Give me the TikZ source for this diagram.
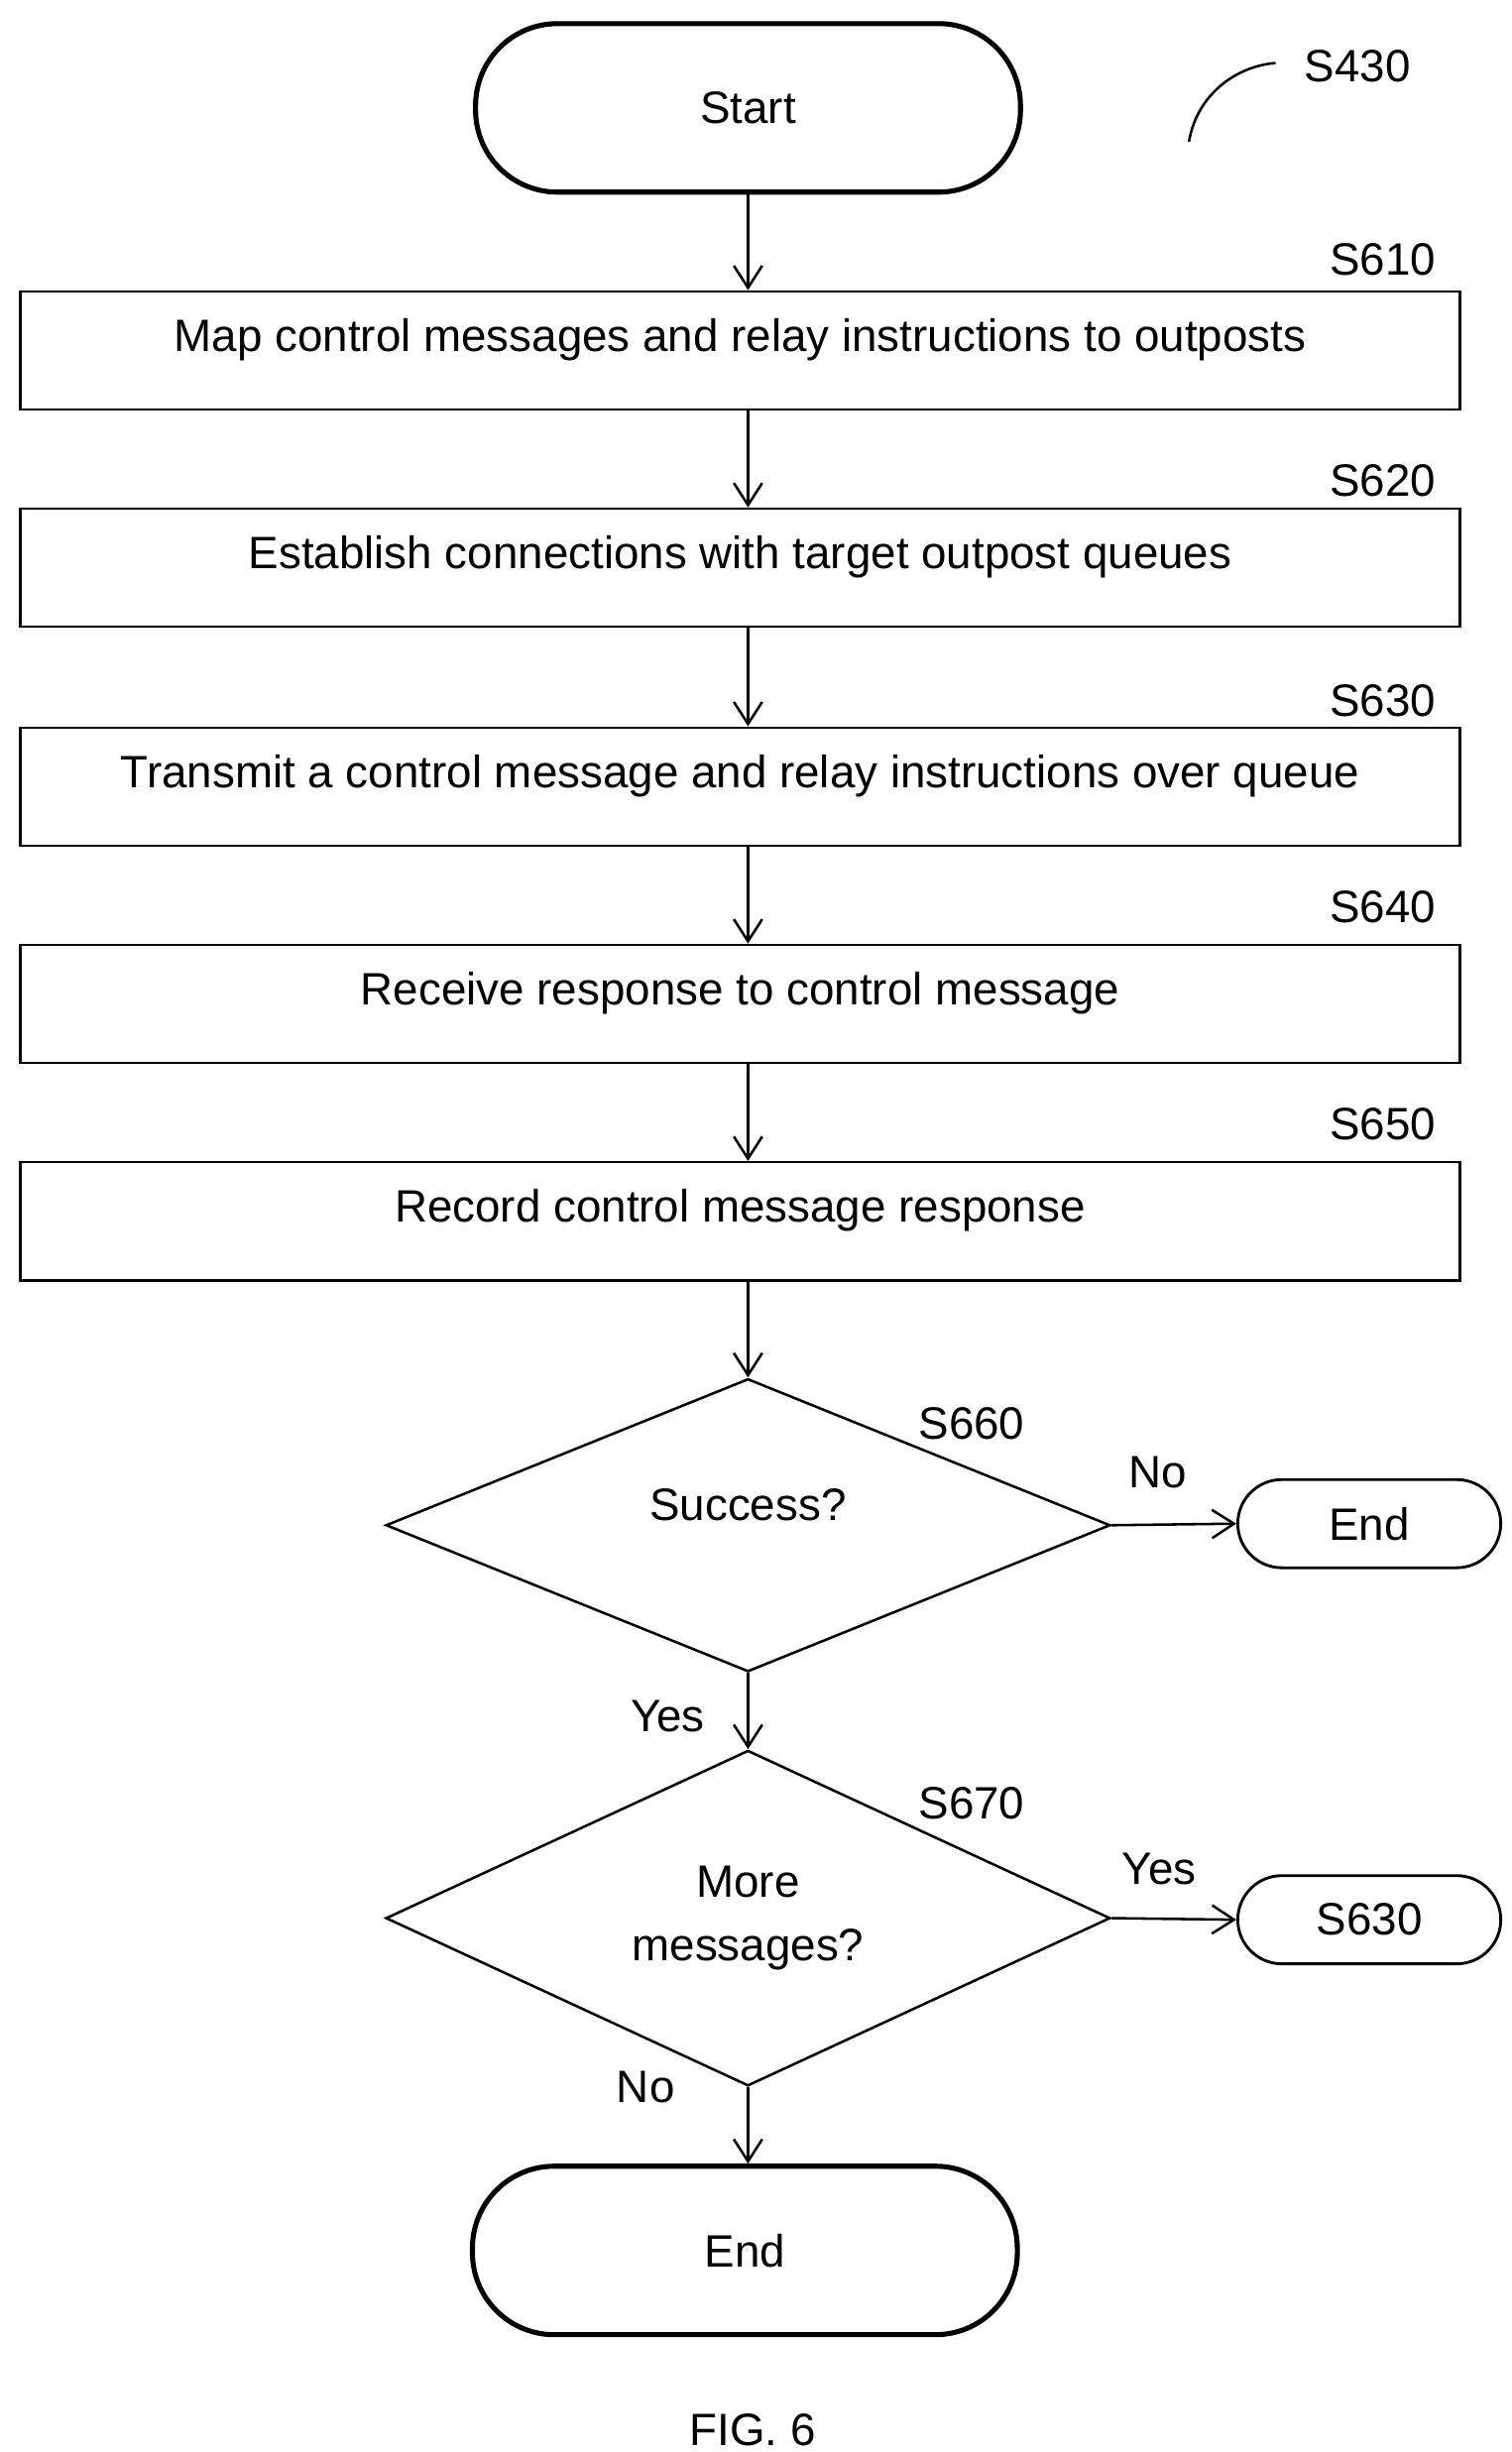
\documentclass[tikz,border=0pt]{standalone}
\usepackage{fontspec}
\setmainfont{Liberation Sans}
\usetikzlibrary{shapes.geometric,arrows.meta}
\begin{document}
\begin{tikzpicture}[x=0.5pt,y=-0.5pt,
  every node/.style={font=\fontsize{14.4}{17}\selectfont},
  term/.style={draw,line width=1.6pt,rounded corners=26pt,minimum width=173pt,minimum height=53.5pt},
  small/.style={draw,line width=0.9pt,rounded corners=14pt,minimum width=83.5pt,minimum height=28pt},
  box/.style={draw,line width=0.8pt,minimum width=457pt,minimum height=37.5pt,text depth=10pt},
  dia/.style={draw,line width=0.8pt,diamond,minimum width=230pt,minimum height=93pt,inner sep=0pt,align=center},
  lbl/.style={inner sep=0pt},
  arr/.style={draw,line width=0.8pt,-{Straight Barb[length=7pt,width=9pt]}}]
\useasboundingbox (0,0) rectangle (960,1557);
\node[term] (start) at (475,68.5) {Start};
\node[lbl] (s430) at (862,42) {S430};
\coordinate (c1) at (755,90);
\coordinate (c2) at (810,40);
\draw[line width=0.8pt] (c1) .. controls (760,60) and (785,42) .. (c2);
\node[box] (b1) at (470,222.5) {Map control messages and relay instructions to outposts};
\node[box] (b2) at (470,360.5) {Establish connections with target outpost queues};
\node[box] (b3) at (470,499.5) {Transmit a control message and relay instructions over queue};
\node[box] (b4) at (470,637.5) {Receive response to control message};
\node[box] (b5) at (470,775.5) {Record control message response};
\node[lbl] at (878,165) {S610};
\node[lbl] at (878,305) {S620};
\node[lbl] at (878,445) {S630};
\node[lbl] at (878,576) {S640};
\node[lbl] at (878,714) {S650};
\node[dia] (d1) at (475,968.5) {Success?\\[-4pt]};
\node[dia] (d2) at (475,1218) {More\\[3pt]messages?};
\node[lbl] at (617,904) {S660};
\node[lbl] at (617,1145) {S670};
\node[small] (e1) at (869.5,967.5) {End};
\node[small] (e2) at (869.5,1219) {S630};
\node[lbl] at (735,935) {No};
\node[lbl] at (736,1187) {Yes};
\node[lbl] at (424,1090) {Yes};
\node[lbl] at (410,1325) {No};
\node[term] (end) at (473,1429) {End};
\node[lbl] at (478,1543) {FIG. 6};
\path[arr] (start.south) -- (b1.north -| start.south);
\path[arr] (b1.south -| start.south) -- (b2.north -| start.south);
\path[arr] (b2.south -| start.south) -- (b3.north -| start.south);
\path[arr] (b3.south -| start.south) -- (b4.north -| start.south);
\path[arr] (b4.south -| start.south) -- (b5.north -| start.south);
\path[arr] (b5.south -| start.south) -- (d1.north);
\path[arr] (d1.south) -- (d2.north);
\path[arr] (d1.east) -- (e1.west);
\path[arr] (d2.east) -- (e2.west);
\path[arr] (d2.south) -- (end.north -| d2.south);
\end{tikzpicture}
\end{document}
